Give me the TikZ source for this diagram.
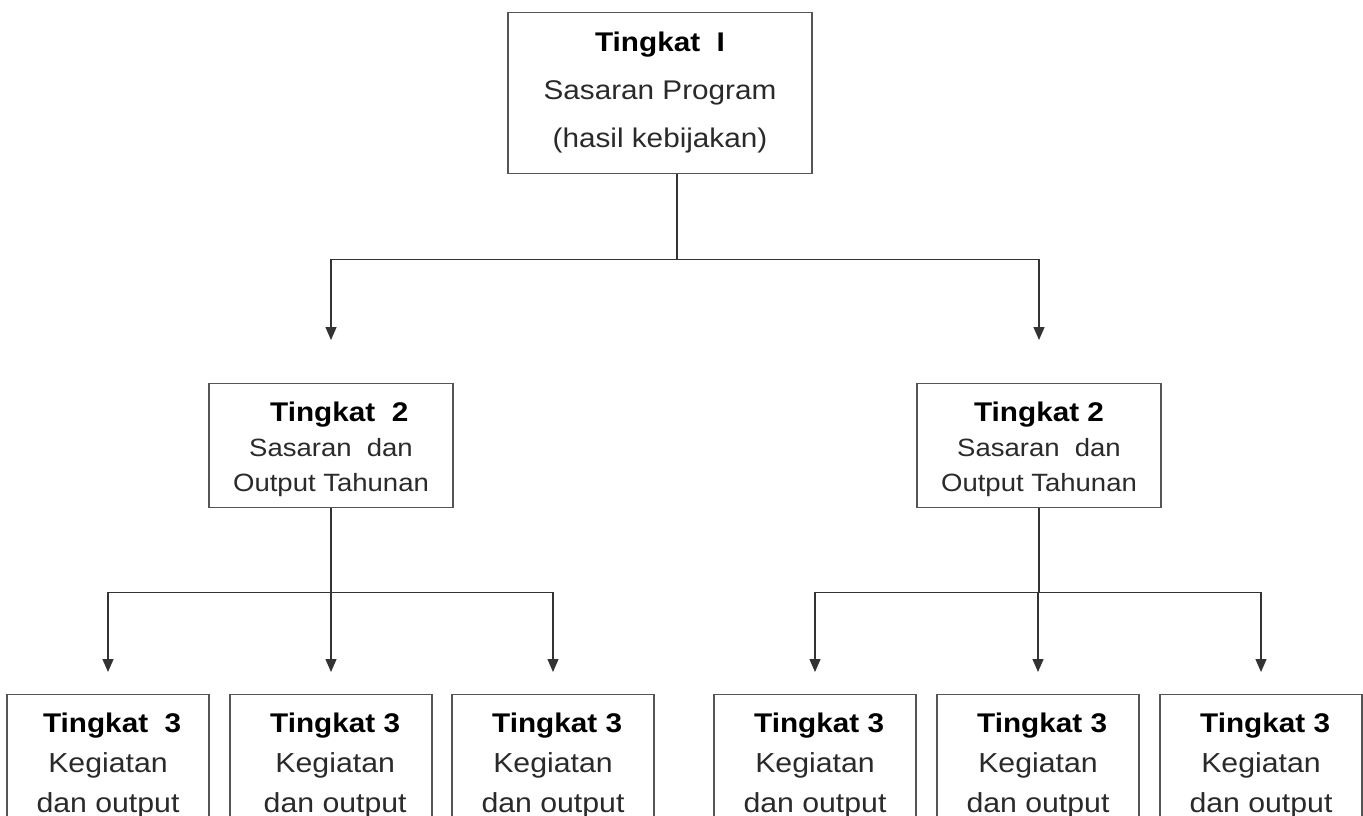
\documentclass[tikz,border=0pt]{standalone}
\usepackage{fontspec}
\setmainfont{Liberation Sans}[FakeStretch=1.1]
\usetikzlibrary{arrows.meta}
\definecolor{boxc}{HTML}{555555}
\definecolor{linec}{HTML}{333333}
\definecolor{txtc}{HTML}{2A2A2A}
\newcommand\tkhead[1]{{\fontsize{27}{35}\selectfont\bfseries\color{black}#1}}
\begin{document}
\begin{tikzpicture}[x=1pt,y=-1pt,
  box/.style={draw=boxc, line width=1.2pt, rectangle, align=center, inner xsep=4pt, inner ysep=0pt, text=txtc, anchor=north},
  topbox/.style={box, minimum width=304pt, text height=135pt, text depth=26pt, font=\fontsize{27}{48}\selectfont},
  midbox/.style={box, minimum width=244pt, text height=108pt, text depth=16pt, font=\fontsize{25}{35}\selectfont},
  lowbox/.style={box, minimum width=202pt, text height=118pt, text depth=100pt, font=\fontsize{27.5}{40}\selectfont},
  conn/.style={draw=linec, line width=1.3pt},
  arr/.style={conn, -{Triangle[width=11pt,length=13pt]}}
]
\path[use as bounding box, clip] (0,0) rectangle (1363,816);
\fill[white] (0,0) rectangle (1363,816);

% boxes
\node[topbox] (top) at (660,12) {\tkhead{Tingkat\ \ I}\\Sasaran Program\\(hasil kebijakan)};

\node[midbox] (l2a) at (331,383) {\tkhead{\ \ Tingkat\ \ 2}\\Sasaran\ \ dan\\Output Tahunan};
\node[midbox] (l2b) at (1039,383) {\tkhead{Tingkat 2}\\Sasaran\ \ dan\\Output Tahunan};

\node[lowbox] (c1) at (108,694) {\tkhead{\ Tingkat\ \ 3}\\Kegiatan\\dan output};
\node[lowbox] (c2) at (331,694) {\tkhead{\ Tingkat 3}\\\ Kegiatan\\\ dan output};
\node[lowbox] (c3) at (553,694) {\tkhead{\ Tingkat 3}\\Kegiatan\\dan output};
\node[lowbox] (c4) at (815,694) {\tkhead{\ Tingkat 3}\\Kegiatan\\dan output};
\node[lowbox] (c5) at (1038,694) {\tkhead{\ Tingkat 3}\\Kegiatan\\dan output};
\node[lowbox] (c6) at (1261,694) {\tkhead{\ Tingkat 3}\\Kegiatan\\dan output};

% level 1 -> level 2
\path (top.south) ++(17,0) coordinate (t0);
\path (t0) ++(0,85) coordinate (bus0);
\draw[conn] (t0) -- (bus0);
\draw[conn] (l2a.north |- bus0) -- (l2b.north |- bus0);
\draw[arr, shorten >=43pt] (l2a.north |- bus0) -- (l2a.north);
\draw[arr, shorten >=43pt] (l2b.north |- bus0) -- (l2b.north);

% level 2 (left) -> level 3
\path (l2a.south) ++(0,84) coordinate (bus1);
\draw[conn] (l2a.south) -- (bus1);
\draw[conn] (c1.north |- bus1) -- (c3.north |- bus1);
\draw[arr, shorten >=22pt] (c1.north |- bus1) -- (c1.north);
\draw[arr, shorten >=22pt] (c2.north |- bus1) -- (c2.north);
\draw[arr, shorten >=22pt] (c3.north |- bus1) -- (c3.north);

% level 2 (right) -> level 3
\path (l2b.south) ++(0,84) coordinate (bus2);
\draw[conn] (l2b.south) -- (bus2);
\draw[conn] (c4.north |- bus2) -- (c6.north |- bus2);
\draw[arr, shorten >=22pt] (c4.north |- bus2) -- (c4.north);
\draw[arr, shorten >=22pt] (c5.north |- bus2) -- (c5.north);
\draw[arr, shorten >=22pt] (c6.north |- bus2) -- (c6.north);
\end{tikzpicture}
\end{document}
